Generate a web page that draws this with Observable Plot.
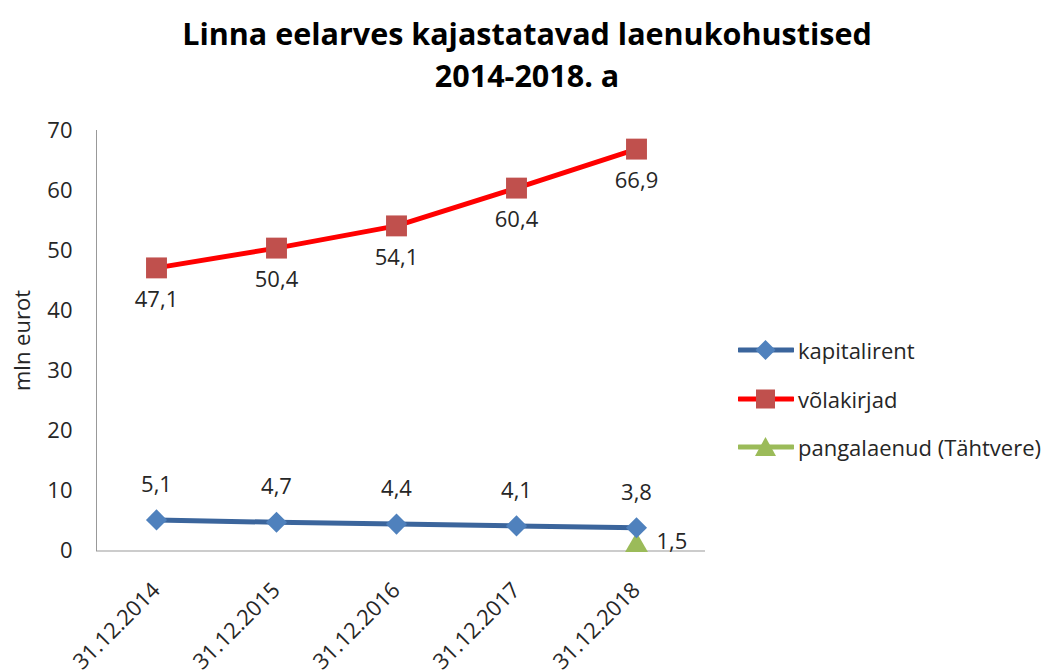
<!DOCTYPE html>
<html>
<head>
<meta charset="utf-8">
<script src="https://cdn.jsdelivr.net/npm/d3@7"></script>
<script src="https://cdn.jsdelivr.net/npm/@observablehq/plot@0.6"></script>
<style>
  body { margin: 0; background: #fff; font-family: "Open Sans", sans-serif; }
  #wrap { position: relative; width: 1058px; height: 671px; overflow: hidden; }
  #title { width: 1058px; height: 105px; box-sizing: border-box; padding-top: 12px; text-align: center;
           font-weight: 700; font-size: 30.5px; line-height: 42px; color: #000; padding-right: 4px; }
  #legend { position: absolute; left: 738px; top: 0; font-size: 22px; color: #262626; }
  .item { position: absolute; left: 0; height: 30px; display: flex; align-items: center; white-space: nowrap; }
  .item svg { margin-right: 4px; }
</style>
</head>
<body>
<div id="wrap">
  <div id="title">Linna eelarves kajastatavad laenukohustised<br>2014-2018. a</div>
  <div id="chart"></div>
  <div id="legend"></div>
</div>
<script>
const dates = ["31.12.2014", "31.12.2015", "31.12.2016", "31.12.2017", "31.12.2018"];
const kapitalirent = [5.1, 4.7, 4.4, 4.1, 3.8];
const volakirjad = [47.1, 50.4, 54.1, 60.4, 66.9];
const pangalaenud = [null, null, null, null, 1.5];
const seriesNames = ["kapitalirent", "võlakirjad", "pangalaenud (Tähtvere)"];
const yTicks = [0, 10, 20, 30, 40, 50, 60, 70];

const fmt = v => String(v).replace(".", ",");
const rows = (vals) => dates.map((d, i) => ({date: d, value: vals[i]})).filter(r => r.value != null);
const kapRows = rows(kapitalirent);
const volRows = rows(volakirjad);
const panRows = rows(pangalaenud);

const blueLine = "#3B659C", blueMark = "#4F81BD";
const redLine = "#FF0000", redMark = "#C0504D";
const green = "#9BBB59";
const txt = "#262626";
const axisGray = "#999999";

const chart = Plot.plot({
  width: 1058,
  height: 566,
  marginTop: 25,
  marginBottom: 121,
  marginLeft: 96,
  marginRight: 353,
  style: {fontFamily: "Open Sans", color: txt, overflow: "visible", background: "transparent"},
  x: {type: "point", domain: dates, range: [155, 637], padding: 0},
  y: {domain: [0, 70], range: [445, 25]},
  marks: [
    Plot.frame({anchor: "left", stroke: axisGray}),
    Plot.ruleY([0], {stroke: axisGray, dy: 0.5}),
    Plot.axisY({ticks: yTicks, tickSize: 0, tickPadding: 24, fontSize: 22, label: null}),
    Plot.axisX({tickRotate: -45, tickSize: 0, tickPadding: 36, fontSize: 22, label: null}),
    Plot.text(["mln eurot"], {frameAnchor: "left", textAnchor: "middle", rotate: -90, dx: -74, fontSize: 22, fill: txt}),
    Plot.line(volRows, {x: "date", y: "value", stroke: redLine, strokeWidth: 5}),
    Plot.line(kapRows, {x: "date", y: "value", stroke: blueLine, strokeWidth: 5}),
    Plot.dot(volRows, {x: "date", y: "value", symbol: "square", r: 11.8, fill: redMark, stroke: "none"}),
    Plot.dot(panRows, {x: "date", y: "value", symbol: "triangle", r: 8.5, fill: green, stroke: "none", dy: 4}),
    Plot.dot(kapRows, {x: "date", y: "value", symbol: "diamond2", r: 9.5, fill: blueMark, stroke: "none"}),
    Plot.text(volRows, {x: "date", y: "value", text: d => fmt(d.value), dy: 32, fontSize: 22, fill: txt}),
    Plot.text(kapRows, {x: "date", y: "value", text: d => fmt(d.value), dy: -35, fontSize: 22, fill: txt}),
    Plot.text(panRows, {x: "date", y: "value", text: d => fmt(d.value), dx: 20, dy: 0, textAnchor: "start", fontSize: 22, fill: txt})
  ]
});
document.getElementById("chart").appendChild(chart);

// legend
const legend = document.getElementById("legend");
const legendTops = [335, 384, 432];
const symbols = [
  `<polygon points="27.5,1 37.5,11 27.5,21 17.5,11" fill="${blueMark}"/>`,
  `<rect x="18" y="1.5" width="19" height="19" fill="${redMark}"/>`,
  `<polygon points="27.5,1 38,20 17,20" fill="${green}"/>`
];
const lineColors = [blueLine, redLine, green];
seriesNames.forEach((name, i) => {
  const div = document.createElement("div");
  div.className = "item";
  div.style.top = legendTops[i] + "px";
  div.innerHTML = `<svg width="56" height="22"><line x1="1" x2="55" y1="11" y2="11" stroke="${lineColors[i]}" stroke-width="5" stroke-linecap="round"/>${symbols[i]}</svg><span>${name}</span>`;
  legend.appendChild(div);
});
</script>
</body>
</html>
